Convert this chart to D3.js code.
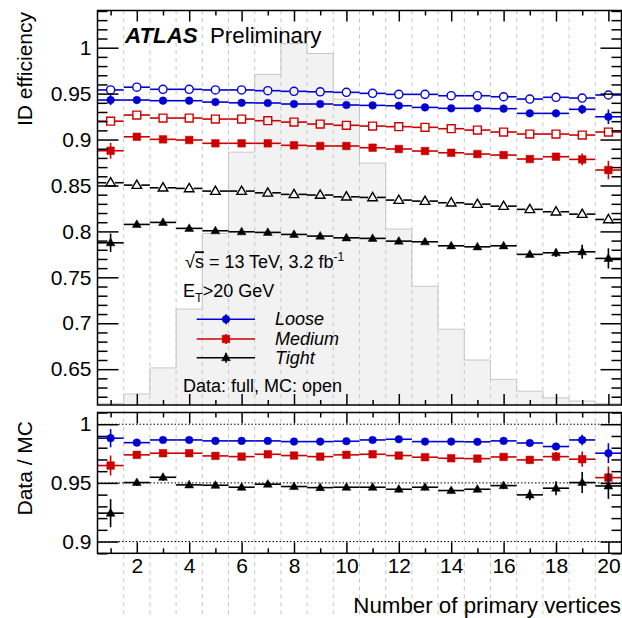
<!DOCTYPE html>
<html><head><meta charset="utf-8">
<script src="https://cdn.jsdelivr.net/npm/d3@7"></script>
<style>
body{margin:0;background:#fff;}
svg{display:block;font-family:"Liberation Sans",Arial,Helvetica,sans-serif;}
</style></head>
<body>
<svg id="c" width="622" height="618"></svg>
<script>
// ---------------- data ----------------
const nPV = [1,2,3,4,5,6,7,8,9,10,11,12,13,14,15,16,17,18,19,20];
const xTicks = [2,4,6,8,10,12,14,16,18,20];
const effTicks = [0.65,0.7,0.75,0.8,0.85,0.9,0.95,1];
const ratioTicks = [0.9,0.95,1];
// MC distribution of number of primary vertices (relative, arbitrary units)
const mcShape = [0.004,0.028,0.094,0.243,0.435,0.641,0.838,0.916,0.891,0.775,0.613,0.446,0.301,0.192,0.114,0.065,0.035,0.018,0.010,0.004];

// efficiencies: data (filled) and MC (open)
const looseData  = [0.943,0.943,0.9423,0.9423,0.9408,0.940,0.9398,0.9387,0.9387,0.9376,0.9372,0.9368,0.935,0.934,0.934,0.9336,0.9285,0.9285,0.9329,0.9248];
const looseDataErr = [0.0055,0.002,0.0015,0.0015,0.0015,0.0015,0.0015,0.0015,0.0015,0.0015,0.0015,0.0015,0.0015,0.002,0.002,0.002,0.0025,0.003,0.005,0.008];
const looseMC    = [0.954,0.957,0.9547,0.9547,0.954,0.954,0.9532,0.9525,0.952,0.9514,0.9503,0.9492,0.9492,0.9477,0.9477,0.9466,0.9441,0.946,0.9452,0.9485];
const mediumData = [0.8878,0.903,0.9002,0.8995,0.8959,0.8959,0.8959,0.8937,0.893,0.893,0.8911,0.8897,0.8875,0.8856,0.8842,0.8831,0.8788,0.8813,0.8784,0.8668];
const mediumDataErr = [0.0087,0.002,0.0015,0.0015,0.0015,0.0015,0.0015,0.0015,0.0015,0.0015,0.0015,0.0015,0.002,0.002,0.002,0.002,0.003,0.003,0.0064,0.01];
const mediumMC   = [0.920,0.9267,0.9234,0.9234,0.9223,0.9223,0.9205,0.919,0.9169,0.9155,0.9147,0.914,0.9133,0.9118,0.9103,0.9082,0.906,0.906,0.9049,0.9082];
const tightData  = [0.7876,0.8076,0.8098,0.8033,0.8007,0.7996,0.7989,0.7967,0.7949,0.793,0.7924,0.7894,0.7887,0.7843,0.7832,0.7843,0.775,0.7767,0.7778,0.7706];
const tightDataErr = [0.01,0.002,0.0015,0.0015,0.0015,0.0015,0.0015,0.0015,0.0015,0.0015,0.0015,0.002,0.002,0.002,0.002,0.0025,0.003,0.0045,0.0076,0.011];
const tightMC    = [0.853,0.8504,0.8475,0.8468,0.8439,0.8439,0.842,0.8403,0.8396,0.8377,0.837,0.8341,0.833,0.8312,0.8297,0.8275,0.824,0.8214,0.8188,0.813];

// Data / MC
const looseRatio  = [0.9881,0.9843,0.9866,0.9866,0.9858,0.9858,0.9858,0.9852,0.9852,0.9855,0.9866,0.9872,0.9852,0.9852,0.985,0.9858,0.984,0.981,0.9866,0.9753];
const looseRatioErr = [0.0078,0.002,0.0018,0.0018,0.0018,0.0018,0.0018,0.0018,0.0018,0.0018,0.0018,0.0018,0.0018,0.002,0.002,0.002,0.0025,0.003,0.0045,0.0085];
const mediumRatio = [0.9648,0.9739,0.9753,0.9753,0.973,0.9724,0.9744,0.9733,0.9724,0.9739,0.9744,0.9733,0.9719,0.971,0.9707,0.9721,0.9696,0.9724,0.9702,0.9545];
const mediumRatioErr = [0.0085,0.0022,0.002,0.002,0.002,0.002,0.002,0.002,0.002,0.002,0.002,0.002,0.002,0.0022,0.0022,0.0022,0.003,0.004,0.0065,0.0095];
const tightRatio  = [0.9242,0.9503,0.9548,0.9483,0.948,0.9463,0.9489,0.9469,0.946,0.9463,0.9463,0.9446,0.9463,0.9435,0.9446,0.9477,0.9398,0.9455,0.9503,0.9474];
const tightRatioErr = [0.012,0.003,0.003,0.0025,0.0025,0.0025,0.0025,0.0025,0.0025,0.0025,0.0025,0.0025,0.0025,0.0025,0.0025,0.003,0.0045,0.006,0.009,0.011];

const BLUE = "#0000d0", RED = "#cc0000", BLACK = "#000000";
const series = [
  {data: looseData,  err: looseDataErr,  mc: looseMC,  ratio: looseRatio,  rerr: looseRatioErr,  color: BLUE,  shape: "circle",   name: "Loose"},
  {data: mediumData, err: mediumDataErr, mc: mediumMC, ratio: mediumRatio, rerr: mediumRatioErr, color: RED,   shape: "square",   name: "Medium"},
  {data: tightData,  err: tightDataErr,  mc: tightMC,  ratio: tightRatio,  rerr: tightRatioErr,  color: BLACK, shape: "triangle", name: "Tight"}
];

// ---------------- layout ----------------
const L = 97.5, R = 621.5;
const topT = 10.5, topB = 405;
const botT = 412.5, botB = 553.3;
const FONT = 21;

const svg = d3.select("#c");
const x = d3.scaleLinear().domain([0.5, 20.5]).range([L, R]);
const yTop = d3.scaleLinear().domain([0.611, 1.0405]).range([topB, topT]);
const yBot = d3.scaleLinear().domain([0.89, 1.01]).range([botB, botT]);
const hScale = d3.scaleLinear().domain([0, 1]).range([topB, topT]);

// marker symbols
const symType = {circle: d3.symbolCircle, square: d3.symbolSquare, triangle: d3.symbolTriangle};
const filledSize = {circle: 46, square: 58, triangle: 34};
const openSize = {circle: 52, square: 62, triangle: 40};
const openHalf = {circle: 4.3, square: 4.2, triangle: 4.4};

// ---------------- histogram ----------------
const histPts = [];
nPV.forEach((n, i) => {
  histPts.push([x(n - 0.5), hScale(mcShape[i])]);
  histPts.push([x(n + 0.5), hScale(mcShape[i])]);
});
const histArea = [[x(0.5), topB], ...histPts, [x(20.5), topB]];
svg.append("path")
  .attr("d", d3.line()(histArea))
  .attr("fill", "#f2f2f2").attr("stroke", "#c8c8c8").attr("stroke-width", 1);

// ---------------- vertical dashed grid ----------------
const gridX = nPV.slice(0, 19).map(n => n + 0.5);
svg.append("g").selectAll("line").data(gridX).join("line")
  .attr("x1", d => x(d)).attr("x2", d => x(d))
  .attr("y1", topT).attr("y2", 618)
  .attr("stroke", "#c6c6c6").attr("stroke-width", 1).attr("stroke-dasharray", "4,4");

// ratio reference lines
svg.append("g").selectAll("line").data(ratioTicks).join("line")
  .attr("x1", L).attr("x2", R)
  .attr("y1", d => yBot(d)).attr("y2", d => yBot(d))
  .attr("stroke", "#000").attr("stroke-width", 1).attr("stroke-dasharray", "1.5,2");

// ---------------- points ----------------
function drawSeries(g, yScale, vals, errs, s, open) {
  const grp = g.append("g");
  nPV.forEach((n, i) => {
    const cx = x(n), cy = yScale(vals[i]);
    if (open) {
      const h = openHalf[s.shape];
      grp.append("line").attr("x1", x(n - 0.5)).attr("x2", cx - h).attr("y1", cy).attr("y2", cy)
        .attr("stroke", s.color).attr("stroke-width", 1.6);
      grp.append("line").attr("x1", cx + h).attr("x2", x(n + 0.5)).attr("y1", cy).attr("y2", cy)
        .attr("stroke", s.color).attr("stroke-width", 1.6);
    } else {
      grp.append("line").attr("x1", x(n - 0.5)).attr("x2", x(n + 0.5)).attr("y1", cy).attr("y2", cy)
        .attr("stroke", s.color).attr("stroke-width", 1.6);
      if (errs) {
        grp.append("line").attr("x1", cx).attr("x2", cx)
          .attr("y1", yScale(vals[i] - errs[i])).attr("y2", yScale(vals[i] + errs[i]))
          .attr("stroke", s.color).attr("stroke-width", 1.6);
      }
    }
    grp.append("path")
      .attr("d", d3.symbol().type(symType[s.shape]).size(open ? openSize[s.shape] : filledSize[s.shape])())
      .attr("transform", `translate(${cx},${cy + (s.shape === "triangle" ? 0.5 : 0)})`)
      .attr("fill", open ? "none" : s.color)
      .attr("stroke", s.color).attr("stroke-width", open ? 1.4 : 0.5);
  });
}
const ptsTop = svg.append("g");
series.forEach(s => {
  drawSeries(ptsTop, yTop, s.mc, null, s, true);
  drawSeries(ptsTop, yTop, s.data, s.err, s, false);
});
const ptsBot = svg.append("g");
series.forEach(s => drawSeries(ptsBot, yBot, s.ratio, s.rerr, s, false));

// ---------------- frames & axes ----------------
function frame(t, b) {
  svg.append("rect").attr("x", L).attr("y", t).attr("width", R - L).attr("height", b - t)
    .attr("fill", "none").attr("stroke", "#000").attr("stroke-width", 1.5);
}
frame(topT, topB);
frame(botT, botB);

const fmt = d => d3.format("~g")(d);
const xMinor = nPV.filter(n => n % 2 === 1);
function styleAxis(g) {
  g.select(".domain").remove();
  g.selectAll(".tick line").attr("stroke", "#000").attr("stroke-width", 1.5);
  g.selectAll("text").attr("font-size", FONT).attr("fill", "#000")
    .attr("font-family", "Liberation Sans, Arial, sans-serif");
}
function yAxes(yScale, major, minor, t, b, withLabels) {
  svg.append("g").attr("transform", `translate(${L},0)`)
    .call(d3.axisLeft(yScale).tickValues(major).tickSize(-21).tickPadding(6).tickFormat(withLabels ? fmt : ""))
    .call(styleAxis);
  svg.append("g").attr("transform", `translate(${L},0)`)
    .call(d3.axisLeft(yScale).tickValues(minor).tickSize(-10).tickFormat(""))
    .call(styleAxis);
  svg.append("g").attr("transform", `translate(${R},0)`)
    .call(d3.axisRight(yScale).tickValues(major).tickSize(-21).tickFormat(""))
    .call(styleAxis);
  svg.append("g").attr("transform", `translate(${R},0)`)
    .call(d3.axisRight(yScale).tickValues(minor).tickSize(-10).tickFormat(""))
    .call(styleAxis);
}
function xAxes(t, b, withLabels) {
  svg.append("g").attr("transform", `translate(0,${t})`)
    .call(d3.axisTop(x).tickValues(xTicks).tickSize(-11).tickFormat(""))
    .call(styleAxis);
  svg.append("g").attr("transform", `translate(0,${t})`)
    .call(d3.axisTop(x).tickValues(xMinor).tickSize(-5).tickFormat(""))
    .call(styleAxis);
  svg.append("g").attr("transform", `translate(0,${b})`)
    .call(d3.axisBottom(x).tickValues(xTicks).tickSize(-11).tickPadding(5).tickFormat(withLabels ? fmt : ""))
    .call(styleAxis);
  svg.append("g").attr("transform", `translate(0,${b})`)
    .call(d3.axisBottom(x).tickValues(xMinor).tickSize(-5).tickFormat(""))
    .call(styleAxis);
}
const effMinor = d3.range(62, 105).map(v => v / 100).filter(v => !effTicks.some(t => Math.abs(t - v) < 1e-6));
const ratioMinor = d3.range(89, 102).map(v => v / 100).filter(v => !ratioTicks.some(t => Math.abs(t - v) < 1e-6));
yAxes(yTop, effTicks, effMinor, topT, topB, true);
xAxes(topT, topB, false);
yAxes(yBot, ratioTicks, ratioMinor, botT, botB, true);
xAxes(botT, botB, true);

// ---------------- titles ----------------
svg.append("text").attr("transform", "translate(31.5,12) rotate(-90)")
  .attr("text-anchor", "end").attr("font-size", FONT).text("ID efficiency");
svg.append("text").attr("transform", "translate(32,421) rotate(-90)")
  .attr("text-anchor", "end").attr("font-size", FONT).text("Data / MC");
svg.append("text").attr("x", 621).attr("y", 612.5)
  .attr("text-anchor", "end").attr("font-size", 22.3).text("Number of primary vertices");

// ATLAS label
const atl = svg.append("text").attr("x", 125).attr("y", 43.3).attr("font-size", 22.3);
atl.append("tspan").attr("font-weight", "bold").attr("font-style", "italic").text("ATLAS");
atl.append("tspan").attr("x", 210).text("Preliminary");

// info texts
const t1 = svg.append("text").attr("x", 185).attr("y", 268.3).attr("font-size", 18);
t1.append("tspan").text("√");
t1.append("tspan").attr("text-decoration", "overline").text("s");
t1.append("tspan").text(" = 13 TeV, 3.2 fb");
t1.append("tspan").attr("font-size", 12).attr("dy", -7).text("-1");
const t2 = svg.append("text").attr("x", 183).attr("y", 297.3).attr("font-size", 18);
t2.append("tspan").text("E");
t2.append("tspan").attr("font-size", 12.5).attr("dy", 4.5).text("T");
t2.append("tspan").attr("dy", -4.5).text(">20 GeV");
svg.append("text").attr("x", 183).attr("y", 391.5).attr("font-size", 18).text("Data: full, MC: open");

// legend
const legY = [319.3, 339, 357.7];
series.forEach((s, i) => {
  const yy = legY[i];
  svg.append("line").attr("x1", 196.7).attr("x2", 255).attr("y1", yy).attr("y2", yy)
    .attr("stroke", s.color).attr("stroke-width", 1.6);
  svg.append("line").attr("x1", 226).attr("x2", 226).attr("y1", yy - 5).attr("y2", yy + 5)
    .attr("stroke", s.color).attr("stroke-width", 1.6);
  svg.append("path")
    .attr("d", d3.symbol().type(symType[s.shape]).size(filledSize[s.shape])())
    .attr("transform", `translate(226,${yy + (s.shape === "triangle" ? 0.5 : 0)})`)
    .attr("fill", s.color).attr("stroke", s.color).attr("stroke-width", 0.5);
  svg.append("text").attr("x", 275).attr("y", yy + 6).attr("font-size", 18)
    .attr("font-style", "italic").text(s.name);
});
</script>
</body></html>
